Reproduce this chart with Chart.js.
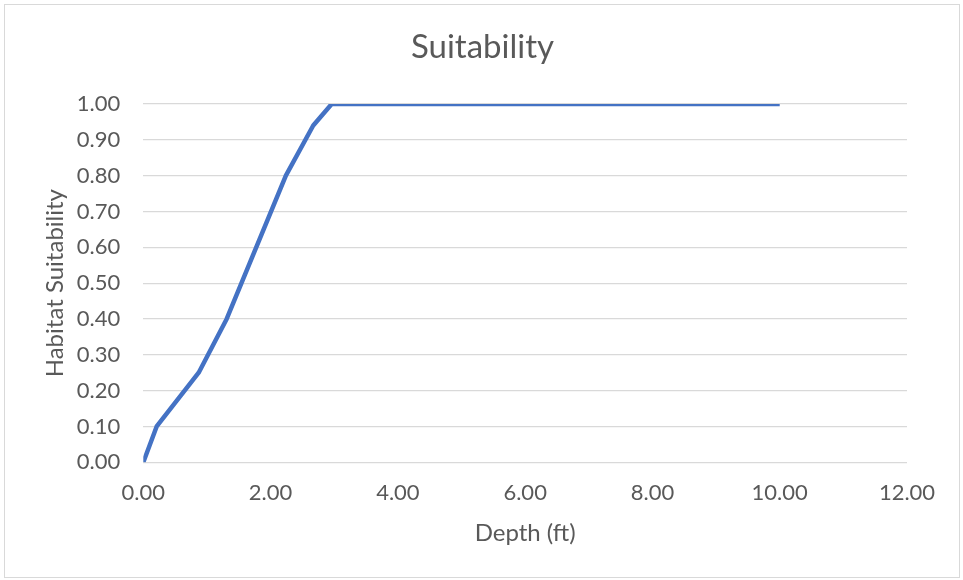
<html>
<head>
<script src="https://cdn.jsdelivr.net/npm/chart.js@4/dist/chart.umd.min.js"></script>
<style>
body { margin: 0; background: #ffffff; }
</style>
</head>
<body>
<canvas id="suitChart" width="963" height="580"></canvas>
<script>
// depth (ft) vs habitat suitability curve
var depth = [0, 0.21, 0.87, 1.31, 2.24, 2.67, 2.96, 10];
var suitability = [0, 0.10, 0.25, 0.40, 0.80, 0.94, 1.00, 1.00];

var chartTitle = "Suitability";
var xTitle = "Depth (ft)";
var yTitle = "Habitat Suitability";

var textColor = "#595959";
var fontName = "Lato, 'Open Sans', sans-serif";

var points = [];
for (var i = 0; i < depth.length; i++) {
  points.push({x: depth[i], y: suitability[i]});
}

// frame + titles drawn straight on the canvas
var decorations = {
  id: "decorations",
  afterDraw: function(chart) {
    var ctx = chart.ctx;
    var area = chart.chartArea;
    ctx.save();
    ctx.strokeStyle = "#d9d9d9";
    ctx.lineWidth = 1;
    ctx.strokeRect(4.5, 4.5, 955, 573);

    ctx.fillStyle = textColor;
    ctx.textAlign = "center";
    ctx.textBaseline = "alphabetic";
    ctx.font = "33px " + fontName;
    ctx.fillText(chartTitle, 482.5, 58);

    ctx.font = "24px " + fontName;
    ctx.fillText(xTitle, (area.left + area.right) / 2, 541);

    ctx.translate(63, (area.top + area.bottom) / 2);
    ctx.rotate(-Math.PI / 2);
    ctx.fillText(yTitle, 0, 0);
    ctx.restore();
  }
};

var ctx = document.getElementById("suitChart").getContext("2d");
var chart = new Chart(ctx, {
  type: "scatter",
  data: {
    datasets: [{
      data: points,
      showLine: true,
      borderColor: "#4472C4",
      backgroundColor: "#4472C4",
      borderWidth: 4.5,
      borderJoinStyle: "round",
      pointRadius: 0,
      tension: 0
    }]
  },
  options: {
    responsive: false,
    animation: false,
    layout: { padding: { top: 104, right: 56, left: 0, bottom: 0 } },
    plugins: {
      legend: { display: false },
      tooltip: { enabled: false }
    },
    scales: {
      x: {
        min: 0,
        max: 12,
        afterFit: function(scale) { scale.height = 117.7; },
        grid: { display: false, drawTicks: false },
        border: { display: false },
        ticks: {
          stepSize: 2,
          autoSkip: false,
          maxRotation: 0,
          padding: 17,
          color: textColor,
          font: { family: fontName, size: 22 },
          callback: function(v) { return v.toFixed(2); }
        }
      },
      y: {
        min: 0,
        max: 1,
        afterFit: function(scale) { scale.width = 143.3; },
        grid: { color: "#d9d9d9", lineWidth: 1.3, drawTicks: false },
        border: { display: false },
        ticks: {
          stepSize: 0.1,
          padding: 23,
          color: textColor,
          font: { family: fontName, size: 22 },
          callback: function(v) { return v.toFixed(2); }
        }
      }
    }
  },
  plugins: [decorations]
});
</script>
</body>
</html>
